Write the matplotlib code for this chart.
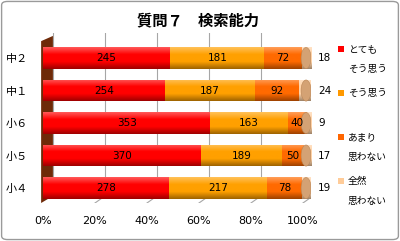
import numpy as np
import matplotlib
matplotlib.use("Agg")
import matplotlib.pyplot as plt
from matplotlib.patches import Rectangle, Ellipse, Polygon, FancyBboxPatch
from matplotlib.colors import LinearSegmentedColormap, to_rgb

plt.rcParams['font.family'] = ['Noto Sans CJK JP', 'DejaVu Sans']

# データ（上から順に）
categories = ['中２', '中１', '小６', '小５', '小４']
totemo = [245, 254, 353, 370, 278]      # とてもそう思う
sou = [181, 187, 163, 189, 217]         # そう思う
amari = [72, 92, 40, 50, 78]            # あまり思わない
zenzen = [18, 24, 9, 17, 19]            # 全然思わない
series_labels = ['とても\nそう思う', 'そう思う', 'あまり\n思わない', '全然\n思わない']
colors = ['#ff0000', '#ffa000', '#ff6a00', '#ffd3a8']
legend_colors = ['#ff0000', '#ff9900', '#ff6600', '#ffcc99']
xtick_labels = ['0%', '20%', '40%', '60%', '80%', '100%']
title = '質問７　検索能力'

FRONT = 0.97     # 手前の目盛りの縮尺（奥行き補正）
DX = 0.037       # 奥の壁へのずれ
BACK_FLOOR = -0.245
H = 0.65         # 円柱の太さ
CAPW = 0.037


def cyl_cmap(c):
    r = np.array(to_rgb(c))
    light = r + (1 - r) * 0.35
    dark = r * 0.62
    return LinearSegmentedColormap.from_list('c', [light, r, r, dark], N=64)


fig = plt.figure(figsize=(4, 2.41), dpi=100)
ax = fig.add_axes([43 / 400, 38 / 241, 268 / 400, 170 / 241])
ax.set_xlim(0, 1)
ax.set_ylim(-0.46, 4.77)

# 奥の壁の目盛線と床
for k in range(6):
    xb = DX + k * 0.2 * FRONT
    xf = k * 0.2 * FRONT
    ax.plot([xb, xb], [BACK_FLOOR, 4.77], color='#a6a6a6', lw=0.8, zorder=1)
    if k > 0:
        ax.plot([xf, xb], [-0.46, BACK_FLOOR], color='#a6a6a6', lw=0.8, zorder=1)

# 左側の壁
wall = Polygon([[-0.007, -0.46], [DX, BACK_FLOOR], [DX, 4.68], [-0.007, 4.52]],
               closed=True, fc='#6e2a08', ec='none', zorder=2, clip_on=False)
ax.add_patch(wall)

data = np.array([totemo, sou, amari, zenzen], dtype=float)
grad = np.linspace(0, 1, 64).reshape(-1, 1)

for i, cat in enumerate(categories):
    y = len(categories) - 1 - i
    total = data[:, i].sum()
    left = 0.0
    for s in range(4):
        w = data[s, i] / total
        rect = Rectangle((left, y - H / 2), w, H, fc='none', ec='none')
        ax.add_patch(rect)
        im = ax.imshow(grad, cmap=cyl_cmap(colors[s]), aspect='auto', origin='upper',
                       extent=(left, left + w, y - H / 2, y + H / 2), zorder=3)
        im.set_clip_path(rect)
        if s < 3:
            ax.text(left + w / 2, y, str(int(data[s, i])), ha='center', va='center',
                    fontsize=7.5, family='DejaVu Sans', zorder=5)
        left += w
    # 右端のふた
    ax.add_patch(Ellipse((1 - CAPW / 2, y), CAPW, H, fc='#d4a274', ec='#b98556',
                         lw=0.4, zorder=4))
    ax.text(1.026, y, str(int(zenzen[i])), ha='left', va='center', fontsize=7.5,
            family='DejaVu Sans', clip_on=False)

ax.set_yticks(range(len(categories)))
ax.set_yticklabels(categories[::-1], fontsize=8)
ax.set_xticks([k * 0.2 * FRONT for k in range(6)])
ax.set_xticklabels(xtick_labels, fontsize=8, family='DejaVu Sans')
ax.tick_params(length=0)
ax.tick_params(axis='y', pad=11)
ax.tick_params(axis='x', pad=9)
for sp in ax.spines.values():
    sp.set_visible(False)
ax.set_xlim(0, 1)
ax.set_ylim(-0.46, 4.77)

fig.text(0.496, 1 - 20 / 241, title, ha='center', va='center', fontsize=11,
         fontweight='bold')

# 凡例
for s, lab in enumerate(series_labels):
    y0 = 49 + s * 44
    fig.patches.append(Rectangle((338 / 400, 1 - (y0 + 3) / 241), 6 / 400, 6 / 241,
                                 transform=fig.transFigure, fc=legend_colors[s], ec='none'))
    for j, line in enumerate(lab.split('\n')):
        fig.text(348 / 400, 1 - (y0 + j * 20) / 241, line, ha='left', va='center',
                 fontsize=7)

fig.patches.append(FancyBboxPatch((0.004, 0.006), 0.992, 0.988,
                                  boxstyle='round,pad=0,rounding_size=0.015',
                                  transform=fig.transFigure, fc='none', ec='#9a9a9a', lw=1))

fig.savefig('out.png', dpi=100)
